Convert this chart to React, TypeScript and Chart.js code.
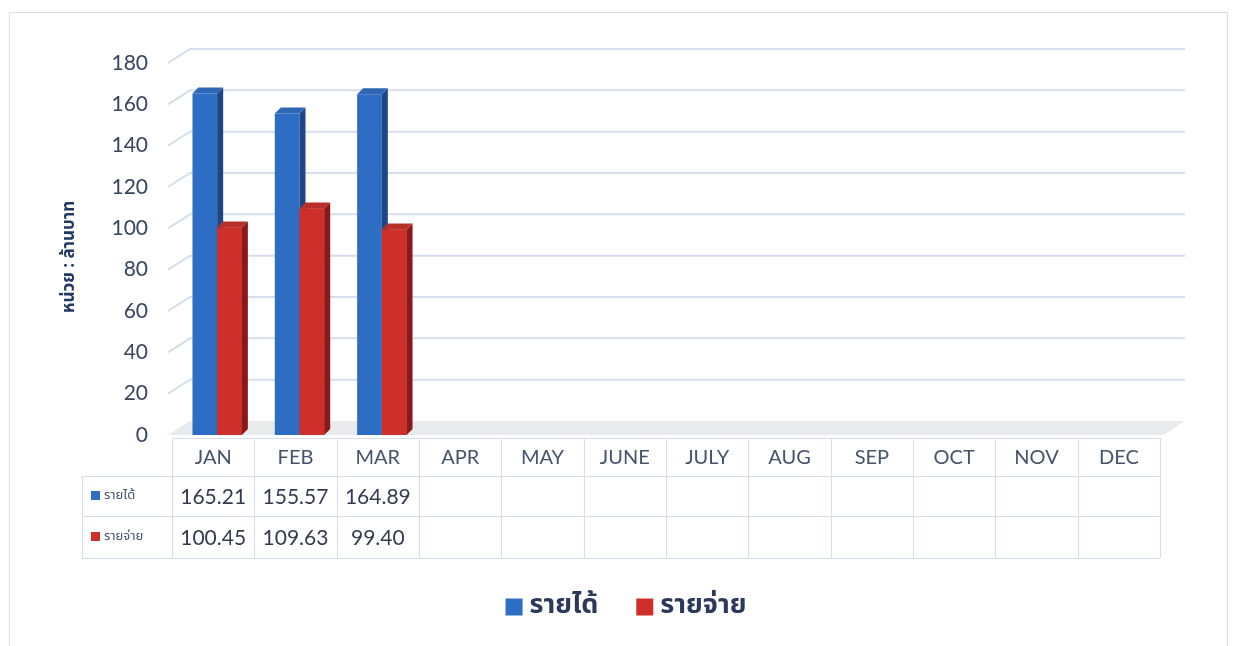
import React, { useEffect, useRef } from "react";
import { Chart, registerables } from "chart.js";

Chart.register(...registerables);

const months = ["JAN", "FEB", "MAR", "APR", "MAY", "JUNE", "JULY", "AUG", "SEP", "OCT", "NOV", "DEC"];
const revenue: (number | null)[] = [165.21, 155.57, 164.89, null, null, null, null, null, null, null, null, null];
const expense: (number | null)[] = [100.45, 109.63, 99.4, null, null, null, null, null, null, null, null, null];
const seriesNames = ["รายได้", "รายจ่าย"];
const yAxisTitle = "หน่วย : ล้านบาท";
const yMin = 0;
const yMax = 180;
const yStep = 20;

const FRONT = ["#2e6dc4", "#cf2f2b"];
const SIDE = ["#1c4684", "#8a1a17"];
const TOP = ["#2f66b5", "#b8302a"];

const DX = 6;
const DY = -6;
const GX = 22;
const GY = -14;
const TXT = "#38455e";
const LINE = "#d5deec";
const FONT = "Lato, 'Open Sans', 'Noto Sans', sans-serif";
const THAI = "'Noto Sans Thai', 'Noto Sans', 'DejaVu Sans', sans-serif";

function drawFaces(chart: any, di: number) {
  const ctx = chart.ctx;
  const meta = chart.getDatasetMeta(di);
  meta.data.forEach((bar: any, i: number) => {
    const v = chart.data.datasets[di].data[i];
    if (v === null || v === undefined) return;
    const x1 = bar.x - bar.width / 2;
    const x2 = bar.x + bar.width / 2;
    const top = bar.y;
    const base = bar.base;
    ctx.fillStyle = SIDE[di];
    ctx.beginPath();
    ctx.moveTo(x2, top);
    ctx.lineTo(x2 + DX, top + DY);
    ctx.lineTo(x2 + DX, base + DY);
    ctx.lineTo(x2, base);
    ctx.closePath();
    ctx.fill();
    ctx.fillStyle = TOP[di];
    ctx.beginPath();
    ctx.moveTo(x1, top);
    ctx.lineTo(x1 + DX, top + DY);
    ctx.lineTo(x2 + DX, top + DY);
    ctx.lineTo(x2, top);
    ctx.closePath();
    ctx.fill();
  });
}

const threeD = {
  id: "threeD",
  beforeDatasetsDraw(chart: any) {
    const ctx = chart.ctx;
    const { left, right } = chart.chartArea;
    const y = chart.scales.y;
    ctx.save();
    const base = y.getPixelForValue(0);
    ctx.fillStyle = "#e9eaec";
    ctx.beginPath();
    ctx.moveTo(left - 4, base);
    ctx.lineTo(left - 4 + GX, base + GY);
    ctx.lineTo(right + 25, base + GY);
    ctx.lineTo(right + 3, base);
    ctx.closePath();
    ctx.fill();
    ctx.strokeStyle = LINE;
    ctx.lineWidth = 2;
    y.ticks.forEach((t: any) => {
      if (t.value === 0) return;
      const py = y.getPixelForValue(t.value);
      ctx.beginPath();
      ctx.moveTo(left - 4, py);
      ctx.lineTo(left - 4 + GX, py + GY);
      ctx.lineTo(right + 25, py + GY);
      ctx.stroke();
    });
    ctx.fillStyle = TXT;
    ctx.font = `21px ${FONT}`;
    ctx.textAlign = "right";
    ctx.textBaseline = "middle";
    y.ticks.forEach((t: any) => {
      ctx.fillText(String(t.value), left - 24, y.getPixelForValue(t.value));
    });
    ctx.save();
    ctx.translate(71, (y.top + y.bottom) / 2 + 8);
    ctx.rotate(-Math.PI / 2);
    ctx.textAlign = "center";
    ctx.fillStyle = "#1f3864";
    ctx.font = `bold 17px ${THAI}`;
    ctx.fillText(yAxisTitle, 0, 0);
    ctx.restore();
    ctx.restore();
    ctx.save();
    ctx.translate(4, 0);
  },
  afterDatasetsDraw(chart: any) {
    const ctx = chart.ctx;
    drawFaces(chart, 0);
    const metaRed = chart.getDatasetMeta(1);
    metaRed.data.forEach((bar: any, i: number) => {
      const v = chart.data.datasets[1].data[i];
      if (v === null || v === undefined) return;
      bar.draw(ctx);
    });
    drawFaces(chart, 1);
    ctx.restore();
  },
  afterDraw(chart: any) {
    const ctx = chart.ctx;
    const x = chart.scales.x;
    const { left, right } = chart.chartArea;
    const n = months.length;
    const cw = (right - left) / n;
    const rows = [438, 476, 516, 558];
    const labelLeft = 82;
    ctx.save();
    ctx.strokeStyle = LINE;
    ctx.lineWidth = 1;
    ctx.beginPath();
    ctx.moveTo(left, rows[0] + 0.5);
    ctx.lineTo(right, rows[0] + 0.5);
    for (let r = 1; r < rows.length; r++) {
      ctx.moveTo(labelLeft, rows[r] + 0.5);
      ctx.lineTo(right, rows[r] + 0.5);
    }
    for (let i = 0; i <= n; i++) {
      const px = Math.round(left + i * cw) + 0.5;
      ctx.moveTo(px, rows[0]);
      ctx.lineTo(px, rows[3]);
    }
    ctx.moveTo(labelLeft + 0.5, rows[1]);
    ctx.lineTo(labelLeft + 0.5, rows[3]);
    ctx.stroke();

    ctx.textAlign = "center";
    ctx.textBaseline = "middle";
    ctx.fillStyle = "#44546a";
    ctx.font = `20px ${FONT}`;
    months.forEach((m, i) => {
      ctx.fillText(m, x.getPixelForValue(i), (rows[0] + rows[1]) / 2 + 1);
    });
    const series = [revenue, expense];
    series.forEach((s, r) => {
      ctx.textAlign = "center";
      ctx.fillStyle = "#333d4f";
      ctx.font = `21px ${FONT}`;
      s.forEach((v, i) => {
        if (v === null) return;
        ctx.fillText(v.toFixed(2), x.getPixelForValue(i), (rows[r + 1] + rows[r + 2]) / 2 + 1);
      });
      const cy = (rows[r + 1] + rows[r + 2]) / 2;
      ctx.fillStyle = FRONT[r];
      ctx.fillRect(labelLeft + 9, cy - 5, 9, 9);
      ctx.fillStyle = "#44546a";
      ctx.textAlign = "left";
      ctx.font = `13px ${THAI}`;
      ctx.fillText(seriesNames[r], labelLeft + 22, cy);
    });

    ctx.font = `bold 27px ${THAI}`;
    ctx.textAlign = "left";
    const gap = 38;
    const box = 17;
    const widths = seriesNames.map((s) => ctx.measureText(s).width);
    const total = widths.reduce((a, w) => a + box + 8 + w, 0) + gap;
    let lx = 627 - total / 2;
    const ly = 607;
    seriesNames.forEach((s, i) => {
      ctx.fillStyle = FRONT[i];
      ctx.fillRect(lx, ly - box / 2, box, box);
      ctx.fillStyle = "#2b3a5a";
      ctx.fillText(s, lx + box + 7, ly + 1);
      lx += box + 7 + widths[i] + gap;
    });
    ctx.restore();
  },
};

export default function App() {
  const ref = useRef<HTMLCanvasElement | null>(null);
  useEffect(() => {
    document.body.style.margin = "0";
    const chart = new Chart(ref.current as HTMLCanvasElement, {
      type: "bar",
      data: {
        labels: months,
        datasets: [
          { label: seriesNames[0], data: revenue, backgroundColor: FRONT[0] },
          { label: seriesNames[1], data: expense, backgroundColor: FRONT[1] },
        ],
      },
      options: {
        animation: false,
        responsive: false,
        events: [],
        layout: { padding: { left: 172, right: 77, top: 63, bottom: 211 } },
        datasets: { bar: { categoryPercentage: 0.6, barPercentage: 1 } },
        scales: {
          x: { display: false, offset: true },
          y: { display: false, min: yMin, max: yMax, ticks: { stepSize: yStep } },
        },
        plugins: { legend: { display: false }, tooltip: { enabled: false } },
      },
      plugins: [threeD],
    });
    return () => chart.destroy();
  }, []);
  return (
    <div style={{ position: "relative", width: 1237, height: 646, background: "#fff" }}>
      <div
        style={{
          position: "absolute",
          left: 9,
          top: 12,
          width: 1219,
          height: 700,
          border: "1px solid #dcdfe4",
          boxSizing: "border-box",
        }}
      />
      <canvas ref={ref} width={1237} height={646} style={{ position: "absolute", left: 0, top: 0 }} />
    </div>
  );
}
